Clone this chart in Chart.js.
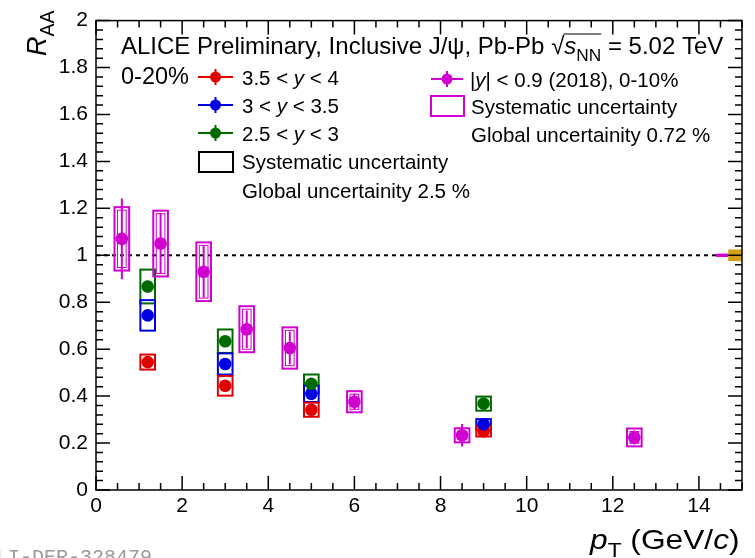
<!DOCTYPE html>
<html>
<head>
<meta charset="utf-8">
<script src="https://cdn.jsdelivr.net/npm/chart.js@4/dist/chart.umd.min.js"></script>
<style>
html, body { margin: 0; padding: 0; background: #fff; }
canvas { display: block; }
</style>
</head>
<body>
<canvas id="chart" width="755" height="558"></canvas>
<script>
// forward rapidity (0-20%)
const fwdPt = [1.2, 3, 5, 9];
const rapHigh = [0.545, 0.444, 0.342, 0.25];      // 3.5 < y < 4
const rapHighStat = [0.02, 0.015, 0.012, 0.015];
const rapHighSys = [0.032, 0.042, 0.03, 0.022];
const rapMid = [0.744, 0.537, 0.41, 0.28];        // 3 < y < 3.5
const rapMidStat = [0.02, 0.015, 0.012, 0.015];
const rapMidSys = [0.065, 0.045, 0.035, 0.022];
const rapLow = [0.867, 0.634, 0.452, 0.368];      // 2.5 < y < 3
const rapLowStat = [0.025, 0.018, 0.015, 0.015];
const rapLowSys = [0.072, 0.05, 0.04, 0.03];

// mid rapidity |y| < 0.9 (2018), 0-10%
const centPt = [0.6, 1.5, 2.5, 3.5, 4.5, 6, 8.5, 12.5];
const centRaa = [1.07, 1.05, 0.93, 0.685, 0.605, 0.376, 0.233, 0.224];
const centStat = [0.172, 0.13, 0.11, 0.08, 0.07, 0.035, 0.048, 0.03];
const centSys = [0.135, 0.14, 0.125, 0.098, 0.088, 0.045, 0.03, 0.038];

const xTicks = [0, 2, 4, 6, 8, 10, 12, 14];
const yTicks = [0, 0.2, 0.4, 0.6, 0.8, 1, 1.2, 1.4, 1.6, 1.8, 2];

const BOX_HALF = 0.17;
const FONT = '"Liberation Sans", Arial, Helvetica, sans-serif';

const RED = "#e00000", BLUE = "#0000e0", GREEN = "#006a00", MAG = "#d000d0", GOLD = "#d4a017";

function pts(xs, ys) {
  return xs.map((x, i) => ({ x: x, y: ys[i] }));
}

const groups = [
  { x: fwdPt, y: rapLow, stat: rapLowStat, sys: rapLowSys, color: GREEN },
  { x: fwdPt, y: rapMid, stat: rapMidStat, sys: rapMidSys, color: BLUE },
  { x: fwdPt, y: rapHigh, stat: rapHighStat, sys: rapHighSys, color: RED },
  { x: centPt, y: centRaa, stat: centStat, sys: centSys, color: MAG }
];

function richText(ctx, x, y, runs, size) {
  let cx = x;
  runs.forEach(r => {
    const s = r.sub ? size * 0.72 : size;
    ctx.font = (r.it ? "italic " : "") + s + "px " + FONT;
    ctx.fillText(r.t, cx, y + (r.sub ? size * 0.28 : 0));
    cx += ctx.measureText(r.t).width;
  });
  return cx;
}

const rootPlugin = {
  id: "rootStyle",
  beforeDatasetsDraw(chart) {
    const ctx = chart.ctx, xs = chart.scales.x, ys = chart.scales.y;
    ctx.save();
    // dashed unity line
    ctx.strokeStyle = "#000";
    ctx.lineWidth = 2;
    ctx.setLineDash([4, 4]);
    ctx.beginPath();
    ctx.moveTo(xs.getPixelForValue(0), ys.getPixelForValue(1));
    ctx.lineTo(xs.getPixelForValue(14.4), ys.getPixelForValue(1));
    ctx.stroke();
    ctx.setLineDash([]);

    // global uncertainties
    ctx.fillStyle = MAG;
    let l = xs.getPixelForValue(14.4), r = xs.getPixelForValue(14.68);
    let t = ys.getPixelForValue(1.0072), b = ys.getPixelForValue(0.9928);
    ctx.fillRect(l, t, r - l, Math.max(b - t, 3));
    ctx.fillStyle = GOLD;
    l = xs.getPixelForValue(14.68); r = xs.getPixelForValue(15);
    t = ys.getPixelForValue(1.025); b = ys.getPixelForValue(0.975);
    ctx.fillRect(l, t, r - l, b - t);

    // boxes and stat bars
    groups.forEach(g => {
      ctx.strokeStyle = g.color;
      g.x.forEach((x, i) => {
        const bl = xs.getPixelForValue(x - BOX_HALF), br = xs.getPixelForValue(x + BOX_HALF);
        const bt = ys.getPixelForValue(g.y[i] + g.sys[i]), bb = ys.getPixelForValue(g.y[i] - g.sys[i]);
        ctx.lineWidth = 2;
        ctx.strokeRect(bl, bt, br - bl, bb - bt);
        if (g.color === MAG) {
          ctx.lineWidth = 1;
          ctx.strokeRect(bl + 3, bt + 3, br - bl - 6, bb - bt - 6);
        }
        const px = xs.getPixelForValue(x);
        ctx.lineWidth = 2;
        ctx.beginPath();
        ctx.moveTo(px, ys.getPixelForValue(g.y[i] + g.stat[i]));
        ctx.lineTo(px, ys.getPixelForValue(g.y[i] - g.stat[i]));
        ctx.stroke();
      });
    });
    ctx.restore();
  },
  afterDraw(chart) {
    const ctx = chart.ctx, xs = chart.scales.x, ys = chart.scales.y;
    const a = chart.chartArea;
    ctx.save();
    ctx.strokeStyle = "#000";
    ctx.lineWidth = 1.5;
    ctx.strokeRect(a.left, a.top, a.right - a.left, a.bottom - a.top);

    // inward ticks on all four sides
    ctx.lineWidth = 1.5;
    ctx.beginPath();
    for (let v = 0; v <= 15.001; v += 0.5) {
      const px = xs.getPixelForValue(v);
      const len = Math.abs(v % 2) < 1e-6 ? 14 : 7;
      ctx.moveTo(px, a.bottom); ctx.lineTo(px, a.bottom - len);
      ctx.moveTo(px, a.top); ctx.lineTo(px, a.top + len);
    }
    for (let k = 0; k <= 50; k++) {
      const v = k * 0.04;
      const py = ys.getPixelForValue(v);
      const len = k % 5 === 0 ? 14 : 7;
      ctx.moveTo(a.left, py); ctx.lineTo(a.left + len, py);
      ctx.moveTo(a.right, py); ctx.lineTo(a.right - len, py);
    }
    ctx.stroke();

    // axis titles
    ctx.fillStyle = "#000";
    ctx.textBaseline = "alphabetic";
    ctx.textAlign = "left";
    ctx.save();
    ctx.translate(46, 56);
    ctx.rotate(-Math.PI / 2);
    richText(ctx, 0, 0, [{ t: "R", it: true }, { t: "AA", sub: true }], 27);
    ctx.restore();
    ctx.save();
    ctx.translate(590, 549);
    ctx.scale(1.12, 1);
    richText(ctx, 0, 0, [{ t: "p", it: true }, { t: "T", sub: true }, { t: " (GeV/" }, { t: "c", it: true }, { t: ")" }], 28.3);
    ctx.restore();

    // header text
    const hs = 24;
    let cx = richText(ctx, 121, 54, [{ t: "ALICE Preliminary, Inclusive J/\u03c8, Pb-Pb " }], hs);
    ctx.font = hs + "px " + FONT;
    ctx.fillText("\u221a", cx, 54);
    const sx = cx + ctx.measureText("\u221a").width;
    const ex = richText(ctx, sx, 54, [{ t: "s", it: true }, { t: "NN", sub: true }], hs);
    ctx.lineWidth = 1.2;
    ctx.beginPath();
    ctx.moveTo(sx - 1, 34); ctx.lineTo(ex, 34);
    ctx.stroke();
    richText(ctx, ex, 54, [{ t: " = 5.02 TeV" }], hs);
    richText(ctx, 121, 84, [{ t: "0-20%" }], 23.5);

    // legend
    const fs = 20.5;
    const legMarker = (x0, x1, y, color) => {
      ctx.strokeStyle = color;
      ctx.fillStyle = color;
      ctx.lineWidth = 2;
      ctx.beginPath();
      ctx.moveTo(x0, y); ctx.lineTo(x1, y);
      const mx = (x0 + x1) / 2;
      ctx.moveTo(mx, y - 8); ctx.lineTo(mx, y + 8);
      ctx.stroke();
      ctx.beginPath();
      ctx.arc(mx, y, 5.5, 0, Math.PI * 2);
      ctx.fill();
    };
    const rows = [
      { y: 77, c: RED, txt: [{ t: "3.5 < " }, { t: "y", it: true }, { t: " < 4" }] },
      { y: 105, c: BLUE, txt: [{ t: "3 < " }, { t: "y", it: true }, { t: " < 3.5" }] },
      { y: 133, c: GREEN, txt: [{ t: "2.5 < " }, { t: "y", it: true }, { t: " < 3" }] }
    ];
    rows.forEach(rw => {
      legMarker(198, 233, rw.y, rw.c);
      ctx.fillStyle = "#000";
      richText(ctx, 242, rw.y + 8, rw.txt, fs);
    });
    ctx.strokeStyle = "#000";
    ctx.lineWidth = 2;
    ctx.strokeRect(199, 152, 34, 20);
    ctx.fillStyle = "#000";
    richText(ctx, 242, 169, [{ t: "Systematic uncertainty" }], fs);
    richText(ctx, 242, 198, [{ t: "Global uncertainity 2.5 %" }], fs);

    legMarker(431, 463, 79, MAG);
    ctx.fillStyle = "#000";
    richText(ctx, 470, 87, [{ t: "|" }, { t: "y", it: true }, { t: "| < 0.9 (2018), 0-10%" }], fs);
    ctx.strokeStyle = MAG;
    ctx.lineWidth = 2;
    ctx.strokeRect(431, 96, 33, 20);
    ctx.fillStyle = "#000";
    richText(ctx, 471, 114, [{ t: "Systematic uncertainty" }], fs);
    richText(ctx, 471, 142, [{ t: "Global uncertainity 0.72 %" }], fs);

    // figure id
    ctx.fillStyle = "#999";
    ctx.font = '20px "Liberation Mono", "DejaVu Sans Mono", monospace';
    ctx.fillText("ALI-DER-328479", -16, 563);
    ctx.restore();
  }
};

const datasets = groups.map(g => ({
  data: pts(g.x, g.y),
  pointRadius: 6.3,
  pointHoverRadius: 6.3,
  pointBackgroundColor: g.color,
  pointBorderWidth: 0,
  showLine: false
}));

new Chart(document.getElementById("chart"), {
  type: "scatter",
  data: { datasets: datasets },
  options: {
    responsive: false,
    animation: false,
    events: [],
    layout: { padding: { top: 15, right: 13, left: 0, bottom: 0 } },
    plugins: { legend: { display: false }, tooltip: { enabled: false } },
    scales: {
      x: {
        type: "linear", min: 0, max: 15,
        grid: { display: false, drawTicks: false },
        border: { display: false },
        afterBuildTicks: s => { s.ticks = xTicks.map(v => ({ value: v })); },
        afterFit: s => { s.height = 68; },
        ticks: { color: "#000", padding: 4, maxRotation: 0, font: { family: FONT, size: 21 } }
      },
      y: {
        type: "linear", min: 0, max: 2,
        grid: { display: false, drawTicks: false },
        border: { display: false },
        afterBuildTicks: s => { s.ticks = yTicks.map(v => ({ value: v })); },
        afterFit: s => { s.width = 96; },
        ticks: { color: "#000", padding: 8, font: { family: FONT, size: 21 }, callback: v => String(+v.toFixed(1)) }
      }
    }
  },
  plugins: [rootPlugin]
});
</script>
</body>
</html>
